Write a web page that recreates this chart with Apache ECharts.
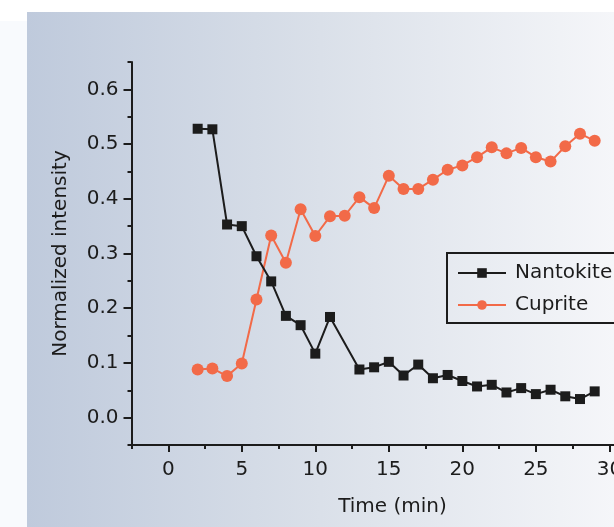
<!DOCTYPE html>
<html><head><meta charset="utf-8">
<script src="https://cdn.jsdelivr.net/npm/echarts@6/dist/echarts.min.js"></script>
<style>html,body{margin:0;padding:0;background:#fff}#c{width:614px;height:527px}</style>
</head><body><div id="c"></div>
<script>
const nantokiteTimes = [2,3,4,5,6,7,8,9,10,11,13,14,15,16,17,18,19,20,21,22,23,24,25,26,27,28,29];
const nantokiteValues = [0.528,0.527,0.353,0.350,0.295,0.249,0.186,0.169,0.117,0.184,0.088,0.092,0.102,0.077,0.097,0.072,0.078,0.067,0.057,0.060,0.046,0.054,0.043,0.051,0.039,0.034,0.048];
const cupriteTimes = [2,3,4,5,6,7,8,9,10,11,12,13,14,15,16,17,18,19,20,21,22,23,24,25,26,27,28,29];
const cupriteValues = [0.088,0.090,0.076,0.099,0.216,0.333,0.283,0.381,0.332,0.368,0.369,0.403,0.383,0.442,0.418,0.418,0.435,0.453,0.461,0.476,0.494,0.483,0.493,0.476,0.468,0.496,0.519,0.506];
const xMajorTicks = [0,5,10,15,20,25,30];
const xMinorTicks = [-2.5,2.5,7.5,12.5,17.5,22.5,27.5,32.5];
const yMajorTicks = [0,0.1,0.2,0.3,0.4,0.5,0.6];
const yMinorTicks = [-0.05,0.05,0.15,0.25,0.35,0.45,0.55,0.65];

const FONT = 'DejaVu Sans';
const INK = '#1c1c1c';
const ORANGE = '#f26a48';

const pair = (xs, ys) => xs.map((x, i) => [x, ys[i]]);

const chart = echarts.init(document.getElementById('c'));
const xCommon = {type:'value', min:-2.5, max:33, position:'bottom', splitLine:{show:false}};
const yCommon = {type:'value', min:-0.05, max:0.65, position:'left', splitLine:{show:false}};
chart.setOption({
  backgroundColor:'#ffffff',
  animation:false,
  graphic:[
    {type:'rect', z:-100, shape:{x:0,y:21,width:27,height:506}, style:{fill:'#f8fafd'}},
    {type:'rect', z:-100, shape:{x:27,y:12,width:587,height:515},
      style:{fill:new echarts.graphic.LinearGradient(0,0,1,0,[
        {offset:0,color:'#bfcadc'},{offset:0.5,color:'#dae0e9'},{offset:1,color:'#f5f6f9'}])}}
  ],
  grid:{left:131.5, top:62, width:522, height:383, outerBoundsMode:'none', containLabel:false},
  xAxis:[
    Object.assign({}, xCommon, {
      name:'Time (min)', nameLocation:'middle', nameGap:52,
      nameTextStyle:{fontFamily:FONT, fontSize:20, color:INK},
      axisLine:{onZero:false, lineStyle:{color:INK, width:2}},
      axisTick:{customValues:xMajorTicks, length:7, lineStyle:{color:INK, width:2}},
      axisLabel:{customValues:xMajorTicks, margin:15, fontFamily:FONT, fontSize:20, color:INK}
    }),
    Object.assign({}, xCommon, {
      axisLine:{show:false, onZero:false},
      axisTick:{customValues:xMinorTicks, length:4, lineStyle:{color:INK, width:2}},
      axisLabel:{show:false}
    })
  ],
  yAxis:[
    Object.assign({}, yCommon, {
      name:'Normalized intensity', nameLocation:'middle', nameGap:61,
      nameTextStyle:{fontFamily:FONT, fontSize:20, color:INK},
      axisLine:{show:true, onZero:false, lineStyle:{color:INK, width:2}},
      axisTick:{customValues:yMajorTicks, length:8, lineStyle:{color:INK, width:2}},
      axisLabel:{customValues:yMajorTicks, margin:13, fontFamily:FONT, fontSize:20, color:INK,
        formatter:v => v.toFixed(1)}
    }),
    Object.assign({}, yCommon, {
      axisLine:{show:false, onZero:false},
      axisTick:{show:true, customValues:yMinorTicks, length:4, lineStyle:{color:INK, width:2}},
      axisLabel:{show:false}
    })
  ],
  legend:{
    orient:'vertical', left:447, top:253,
    borderColor:INK, borderWidth:2, borderRadius:0,
    padding:[9,60,7,10], itemWidth:48, itemHeight:12, itemGap:10,
    textStyle:{fontFamily:FONT, fontSize:20, color:INK, lineHeight:22, padding:[0,0,0,4]},
    data:['Nantokite','Cuprite']
  },
  series:[
    {name:'Nantokite', type:'line', data:pair(nantokiteTimes, nantokiteValues),
      symbol:'rect', symbolSize:10, lineStyle:{color:INK, width:2},
      itemStyle:{color:INK}, z:3},
    {name:'Cuprite', type:'line', data:pair(cupriteTimes, cupriteValues),
      symbol:'circle', symbolSize:12, lineStyle:{color:ORANGE, width:2},
      itemStyle:{color:ORANGE}, z:2}
  ]
});
</script></body></html>
